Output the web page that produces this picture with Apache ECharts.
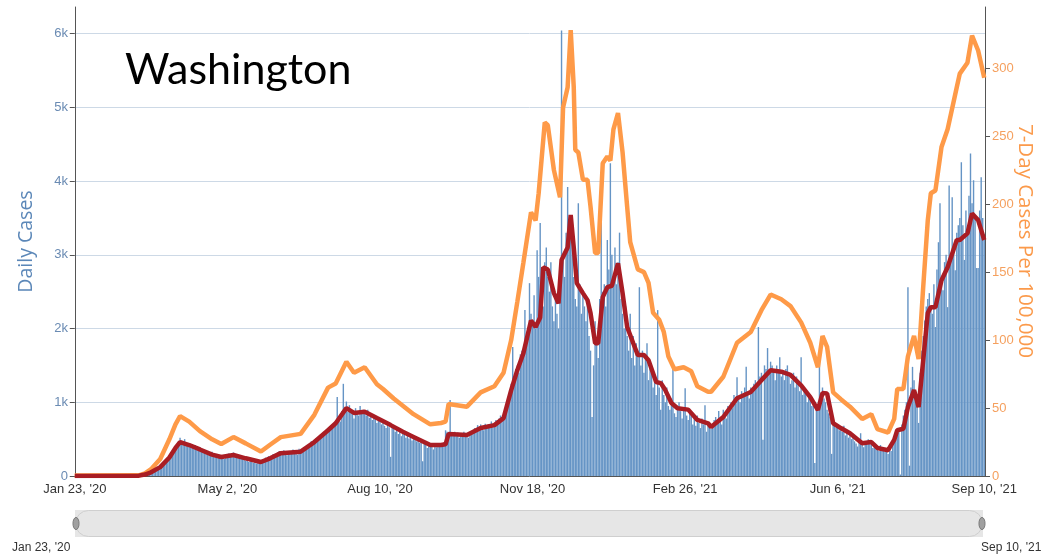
<!DOCTYPE html>
<html>
<head>
<meta charset="utf-8">
<title>Washington</title>
<script src="https://cdn.jsdelivr.net/npm/echarts@6/dist/echarts.min.js"></script>
<style>
    html, body { margin: 0; padding: 0; background: #fff; }
    #chart { width: 1048px; height: 559px; }
</style>
</head>
<body>
<div id="chart"></div>
<script>
    // x axis: one category per day, day 0 = Jan 23, '20, day 596 = Sep 10, '21
    const tickDays = [0, 100, 200, 300, 400, 500, 596]
    const tickLabels = ["Jan 23, '20", "May 2, '20", "Aug 10, '20", "Nov 18, '20", "Feb 26, '21", "Jun 6, '21", "Sep 10, '21"]

    // daily cases, ten days a row
    const dailyCases = [
        1, 0, 0, 0, 0, 0, 0, 0, 0, 0,
        0, 0, 0, 0, 0, 0, 0, 0, 0, 0,
        0, 0, 0, 0, 0, 0, 0, 0, 0, 0,
        0, 0, 0, 0, 0, 0, 0, 0, 2, 4,
        5, 8, 12, 18, 15, 25, 30, 38, 45, 52,
        60, 75, 70, 95, 110, 125, 140, 165, 180, 210,
        230, 260, 250, 300, 340, 380, 410, 430, 470, 520,
        480, 440, 500, 450, 400, 430, 390, 410, 380, 420,
        360, 340, 390, 370, 330, 320, 350, 300, 310, 290,
        330, 270, 260, 300, 250, 240, 280, 250, 230, 270,
        300, 310, 260, 280, 320, 290, 250, 260, 240, 230,
        270, 220, 210, 250, 190, 200, 230, 180, 200, 170,
        210, 190, 180, 230, 200, 250, 220, 270, 240, 260,
        300, 280, 260, 320, 340, 290, 310, 350, 300, 280,
        320, 340, 300, 360, 310, 330, 290, 370, 340, 320,
        380, 360, 420, 400, 440, 470, 430, 480, 510, 490,
        520, 560, 540, 600, 580, 640, 620, 660, 690, 650,
        720, 680, 1070, 800, 740, 880, 1250, 900, 1010, 870,
        960, 900, 840, 780, 920, 880, 820, 950, 860, 900,
        870, 820, 900, 790, 840, 760, 820, 800, 720, 780,
        740, 700, 760, 680, 650, 720, 660, 260, 690, 640,
        600, 660, 570, 620, 540, 600, 580, 520, 560, 510,
        550, 480, 530, 500, 470, 520, 450, 480, 200, 460,
        420, 380, 450, 400, 430, 360, 410, 390, 440, 400,
        430, 410, 460, 620, 600, 560, 1030, 580, 550, 600,
        540, 590, 520, 570, 530, 600, 540, 560, 520, 590,
        610, 580, 650, 620, 690, 640, 700, 660, 620, 710,
        650, 700, 680, 740, 660, 720, 760, 700, 780, 820,
        760, 820, 880, 950, 1050, 1150, 1250, 1750, 1300, 1450,
        1500, 1400, 1650, 1700, 1600, 2250, 1900, 2000, 2615, 2200,
        2100, 2450, 2000, 3060, 2700, 3430, 2600, 2300, 2900, 3100,
        2700, 2500, 2900, 2300, 2100, 2400, 2200, 2000, 2500, 6040,
        3000, 2700, 3300, 3920, 3400, 3500, 3200, 2700, 2400, 2300,
        3700, 2600, 2200, 2500, 2300, 2100, 2400, 1900, 1700, 800,
        1500, 2100, 1800, 1600, 2400, 3970, 2500, 2600, 2300, 3200,
        2800, 4240, 3000, 2700, 3100, 2600, 2900, 3300, 2400, 2200,
        2000, 2300, 1900, 1700, 2200, 1600, 1900, 1500, 1800, 1700,
        2560, 1500, 1700, 1400, 1600, 1800, 1300, 1500, 1400, 1200,
        1300, 1100, 2250, 1200, 900, 1300, 1100, 1000, 1200, 950,
        900, 1050, 1480, 850, 800, 950, 1000, 880, 780, 900,
        1190, 820, 760, 900, 850, 700, 780, 680, 820, 720,
        650, 780, 700, 960, 600, 680, 720, 640, 700, 760,
        800, 720, 880, 760, 700, 900, 840, 780, 950, 880,
        1000, 920, 1100, 980, 1340, 1050, 1000, 1150, 1080, 1200,
        1480, 1100, 1050, 1200, 1150, 1250, 1300, 1200, 2020, 1350,
        1400, 490, 1500, 1450, 1735, 1400, 1550, 1500, 1450, 1300,
        1500, 1400, 1610, 1350, 1400, 1300, 1450, 1500, 1350, 1250,
        1300, 1400, 1200, 1350, 1250, 1150, 1610, 1100, 1200, 1150,
        1000, 1100, 1050, 950, 1000, 175, 900, 950, 1665, 1100,
        1200, 1050, 1000, 900, 850, 800, 300, 750, 700, 650,
        700, 620, 650, 600, 680, 550, 600, 520, 580, 500,
        520, 470, 440, 400, 480, 580, 420, 390, 460, 430,
        500, 460, 420, 380, 440, 400, 360, 340, 420, 380,
        370, 330, 350, 300, 390, 340, 420, 500, 560, 600,
        650, 20, 700, 820, 900, 1000, 2560, 140, 1200, 1480,
        1300, 1150, 1050, 720, 1400, 1700, 1900, 2110, 2300, 2400,
        2480, 2300, 2200, 2600, 2020, 2800, 3170, 3700, 2700, 2520,
        2900, 3000, 2290, 3940, 3000, 3780, 3100, 2790, 3300, 3400,
        3500, 4255, 3400, 2930, 3600, 3300, 3800, 4375, 3700, 4010,
        3500, 2820, 2820, 3600, 4050, 3500, 3200
    ]

    // 7-day average, read at turning points: [day, cases]
    const avgCases = [
        [0, 0], [42, 5], [46, 20], [50, 50], [56, 120], [62, 250], [66, 380], [69, 460],
        [75, 420], [82, 360], [90, 290], [96, 257], [104, 285], [112, 240], [122, 190],
        [128, 240], [135, 310], [148, 330], [157, 460], [166, 620], [171, 715], [178, 920],
        [183, 855], [190, 870], [198, 785], [207, 690], [215, 600], [222, 530], [233, 420],
        [240, 420], [243, 430], [245, 570], [257, 555], [266, 650], [275, 690], [281, 785],
        [286, 1165], [290, 1435], [294, 1665], [299, 2110], [302, 2020], [305, 2150],
        [307, 2830], [310, 2800], [314, 2480], [317, 2340], [319, 2930], [323, 3100],
        [325, 3540], [327, 3100], [329, 2615], [333, 2480], [336, 2385], [338, 2210],
        [341, 1800], [343, 1800], [346, 2425], [349, 2560], [352, 2580], [356, 2885],
        [359, 2480], [362, 2020], [366, 1800], [369, 1640], [373, 1640], [376, 1570],
        [381, 1275], [384, 1260], [387, 1165], [391, 990], [395, 920], [402, 900],
        [408, 760], [415, 715], [417, 665], [425, 800], [434, 1055], [443, 1140],
        [450, 1300], [456, 1435], [463, 1415], [469, 1370], [476, 1230], [482, 1070],
        [487, 895], [490, 1125], [493, 1120], [497, 715], [502, 650], [508, 580],
        [516, 445], [522, 460], [526, 380], [533, 350], [537, 490], [539, 620],
        [543, 640], [546, 935], [550, 1165], [553, 935], [556, 1570], [559, 2210],
        [561, 2290], [564, 2290], [568, 2655], [572, 2830], [578, 3200], [580, 3200],
        [585, 3290], [588, 3560], [592, 3470], [596, 3200]
    ]

    // 7-day cases per 100,000: [day, rate]
    const per100k = [
        [0, 0.3], [42, 0.5], [46, 2], [50, 5], [56, 12.5], [62, 27], [66, 38], [69, 44],
        [75, 40], [82, 33], [90, 27], [96, 23.5], [104, 28.6], [112, 24], [122, 18],
        [128, 23], [135, 28.6], [148, 31], [157, 45], [166, 65], [171, 68], [178, 84],
        [183, 76], [190, 80], [198, 67.5], [202, 64], [209, 57], [222, 45.5], [233, 38],
        [240, 39], [243, 40], [245, 53], [257, 51], [266, 61.5], [275, 66], [281, 76],
        [286, 100], [290, 128], [294, 157], [299, 194], [302, 188], [304, 208],
        [308, 260], [310, 258], [314, 225], [317, 210], [318, 205], [320, 271],
        [323, 286], [325, 328], [327, 286], [328, 240], [330, 238], [333, 218],
        [336, 218], [338, 198], [341, 164], [343, 164], [346, 230], [349, 235],
        [351, 232], [353, 255], [356, 267], [359, 238], [362, 198], [364, 172],
        [369, 152], [373, 150], [376, 142], [379, 120], [383, 115], [386, 106],
        [389, 88], [393, 78.5], [399, 80], [404, 77], [408, 66], [415, 62], [417, 62],
        [425, 73], [434, 98], [443, 106], [450, 122], [456, 133.5], [463, 130],
        [469, 125], [476, 113], [482, 98], [487, 80], [490, 103], [493, 95],
        [497, 61.5], [502, 56.5], [508, 51], [516, 42], [522, 45.5], [526, 34.5],
        [533, 32], [537, 42], [539, 64], [543, 64], [546, 88], [550, 103], [553, 86],
        [556, 139], [559, 188], [561, 208], [564, 210], [568, 242], [572, 255],
        [578, 286], [580, 296], [585, 304], [588, 324], [592, 313], [596, 293]
    ]

    const days = []
    for (let i = 0; i < dailyCases.length; i++) {
        days.push(i)
    }
    const isTick = (index) => tickDays.indexOf(index) > -1

    const chart = echarts.init(document.getElementById('chart'))
    const axisFont = 'Liberation Sans'
    const gridColor = '#cdd9e6'

    const option = {
        animation: false,
        title: {
            text: 'Washington',
            left: 120,
            top: 44,
            textStyle: {
                fontFamily: 'Lato',
                fontSize: 43,
                fontWeight: 'normal',
                color: '#000'
            }
        },
        grid: {
            left: 74,
            right: 63,
            top: 7,
            bottom: 83,
            containLabel: false,
            outerBoundsMode: 'none'
        },
        xAxis: [
            {
                type: 'category',
                data: days,
                boundaryGap: true,
                axisLine: { lineStyle: { color: '#555' } },
                axisTick: {
                    alignWithLabel: true,
                    interval: isTick,
                    length: 5,
                    lineStyle: { color: '#555' }
                },
                axisLabel: {
                    interval: isTick,
                    formatter: (value) => tickLabels[tickDays.indexOf(Number(value))],
                    color: '#333',
                    fontFamily: axisFont,
                    fontSize: 13,
                    margin: 7
                },
                splitLine: { show: false }
            },
            {
                type: 'value',
                min: -0.5,
                max: dailyCases.length - 0.5,
                show: false
            }
        ],
        yAxis: [
            {
                type: 'value',
                position: 'left',
                min: 0,
                max: 6360,
                interval: 1000,
                name: 'Daily Cases',
                nameLocation: 'middle',
                nameGap: 38,
                nameTextStyle: {
                    color: '#5b87b8',
                    fontFamily: 'Open Sans',
                    fontSize: 19.5
                },
                axisLine: { show: true, lineStyle: { color: '#555' } },
                axisTick: { show: true, length: 5, lineStyle: { color: '#555' } },
                axisLabel: {
                    color: '#6a8bb3',
                    fontFamily: axisFont,
                    fontSize: 13,
                    margin: 6,
                    showMaxLabel: false,
                    formatter: (v) => v === 0 ? '0' : v / 1000 + 'k'
                },
                // no grid line at the top end of the axis
                splitLine: {
                    lineStyle: {
                        color: [gridColor, gridColor, gridColor, gridColor, gridColor, gridColor, gridColor, 'rgba(0,0,0,0)']
                    }
                }
            },
            {
                type: 'value',
                position: 'right',
                min: 0,
                max: 345,
                interval: 50,
                axisLine: { show: true, lineStyle: { color: '#555' } },
                axisTick: { show: true, length: 5, lineStyle: { color: '#555' } },
                axisLabel: {
                    color: '#f5a05e',
                    fontFamily: axisFont,
                    fontSize: 13,
                    margin: 7,
                    showMaxLabel: false
                },
                splitLine: { show: false }
            }
        ],
        dataZoom: [
            {
                type: 'slider',
                xAxisIndex: [0, 1],
                filterMode: 'none',
                start: 0,
                end: 100,
                left: 74,
                right: 66,
                top: 510,
                height: 27,
                showDetail: false,
                showDataShadow: false,
                brushSelect: false,
                moveHandleSize: 0,
                borderRadius: 13,
                backgroundColor: '#f4f4f4',
                borderColor: '#cfcfcf',
                fillerColor: '#e6e6e6',
                handleIcon: 'path://M5,0 A5,10 0 1 0 5,20 A5,10 0 1 0 5,0 Z',
                handleSize: '45%',
                handleStyle: { color: '#a0a0a0', borderColor: '#7a7a7a' }
            }
        ],
        graphic: [
            {
                // right axis title, reads top to bottom
                type: 'text',
                x: 1025,
                y: 241,
                rotation: -Math.PI / 2,
                style: {
                    text: '7-Day Cases Per 100,000',
                    fill: '#fb9a4b',
                    font: '20.5px "Open Sans"',
                    align: 'center',
                    verticalAlign: 'middle'
                }
            },
            {
                type: 'text',
                left: 12,
                top: 542,
                style: { text: tickLabels[0], fill: '#333', font: '12px "Liberation Sans"' }
            },
            {
                type: 'text',
                left: 981,
                top: 542,
                style: { text: tickLabels[tickLabels.length - 1], fill: '#333', font: '12px "Liberation Sans"' }
            }
        ],
        series: [
            {
                name: 'Daily Cases',
                type: 'bar',
                xAxisIndex: 0,
                yAxisIndex: 0,
                data: dailyCases,
                barCategoryGap: '8%',
                itemStyle: { color: '#6594c5' },
                z: 1
            },
            {
                name: '7-Day Average',
                type: 'line',
                xAxisIndex: 1,
                yAxisIndex: 0,
                data: avgCases,
                showSymbol: false,
                lineStyle: { color: '#a91d24', width: 4.5 },
                z: 3
            },
            {
                name: '7-Day Cases Per 100,000',
                type: 'line',
                xAxisIndex: 1,
                yAxisIndex: 1,
                data: per100k,
                showSymbol: false,
                lineStyle: { color: '#fe9a48', width: 4.5 },
                z: 2
            }
        ]
    }

    chart.setOption(option)
</script>
</body>
</html>
